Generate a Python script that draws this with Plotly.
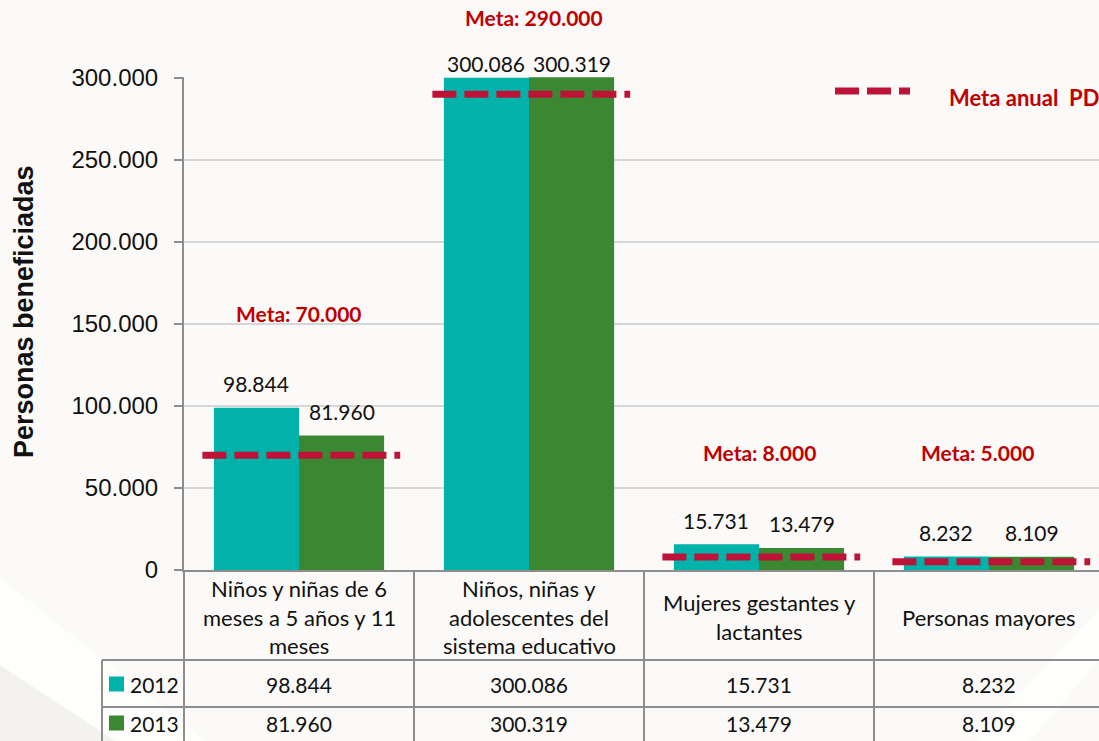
import plotly.graph_objects as go

# ---- data -------------------------------------------------------------
CATEGORIES = [
    "Niños y niñas de 6<br>meses a 5 años y 11<br>meses",
    "Niños, niñas y<br>adolescentes del<br>sistema educativo",
    "Mujeres gestantes y<br>lactantes",
    "Personas mayores",
]
YEARS = ["2012", "2013"]
VALUES_2012 = [98844, 300086, 15731, 8232]
VALUES_2013 = [81960, 300319, 13479, 8109]
METAS = [70000, 290000, 8000, 5000]
Y_TICKS = [0, 50000, 100000, 150000, 200000, 250000, 300000]
AXIS_TITLE = "Personas beneficiadas"
LEGEND_META = "Meta anual\u00a0 PD"

# ---- styling ------------------------------------------------------------
TEAL = "#00B2AA"
GREEN = "#3A8932"
TARGET = "#BE1237"
META_TXT = "#C00000"
GRID = "#D6D6D6"
RULE = "#8E8E8E"
BG = "#FBFAF8"
TXT = "#111111"
FONT = "Lato, 'Open Sans', sans-serif"
TICK_FONT = "'Liberation Sans', Arial, sans-serif"

W, H = 1099, 741
ML, MR, MT, MB = 184, 0, 77, 171
PW = W - ML - MR
PH = H - MT - MB
CAT_PX = 230          # width of one category column in pixels
BARGAP = 0.26


def px_x(px):
    return (px - ML) / PW


def px_y(py):
    return (H - MB - py) / PH


def fmt(v):
    return f"{v:,}".replace(",", ".")


def note(**kw):
    base = dict(showarrow=False, xanchor="center", yanchor="middle")
    base.update(kw)
    return base


fig = go.Figure()
idx = list(range(len(CATEGORIES)))

fig.add_bar(x=idx, y=VALUES_2012, name=YEARS[0], marker_color=TEAL,
            marker_line_width=0, hoverinfo="skip")
fig.add_bar(x=idx, y=VALUES_2013, name=YEARS[1], marker_color=GREEN,
            marker_line_width=0, hoverinfo="skip")

# target (meta) lines over each category
for i, m in enumerate(METAS):
    fig.add_scatter(x=[i - 0.42, i + 0.44], y=[m, m], mode="lines",
                    line=dict(color=TARGET, width=7, dash="24px,8px"),
                    hoverinfo="skip", showlegend=False)

annotations = []
half = (1 - BARGAP) / 4
y_top = 300500

# value labels above the bars
for series, off in ((VALUES_2012, -half), (VALUES_2013, half)):
    for i, v in enumerate(series):
        lift = 14 if v > 0.95 * y_top else 24
        annotations.append(note(x=i + off, y=v, xref="x", yref="y", text=fmt(v),
                                yshift=lift,
                                font=dict(family=FONT, size=21, color=TXT)))

# meta captions
meta_pos = [(0.0, 313), (1.02, 17), (2.0, 452), (2.948, 452)]
for m, (xc, yp) in zip(METAS, meta_pos):
    annotations.append(note(x=xc, y=px_y(yp), xref="x", yref="paper",
                            text="<b>Meta: " + fmt(m) + "</b>",
                            font=dict(family=FONT, size=21, color=META_TXT)))

# legend entry for the target line
annotations.append(note(x=px_x(947), y=px_y(97), xref="paper", yref="paper",
                        xanchor="left", text="<b>" + LEGEND_META + "</b>",
                        font=dict(family=FONT, size=22, color=META_TXT)))

# y axis title
annotations.append(note(x=px_x(24), y=px_y(312), xref="paper", yref="paper",
                        text="<b>" + AXIS_TITLE + "</b>", textangle=-90,
                        font=dict(family="'Liberation Sans', Arial, sans-serif",
                                  size=27, color=TXT)))

# data table: category header row
for i, cat in enumerate(CATEGORIES):
    lines = cat.split("<br>")
    n = len(lines)
    for k, line in enumerate(lines):
        yp = 617 + (k - (n - 1) / 2) * 28.5
        annotations.append(note(x=i, y=px_y(yp), xref="x", yref="paper",
                                text=line,
                                font=dict(family=FONT, size=22, color=TXT)))

# data table: value rows with legend keys
row_y = [684, 723]
shapes = []
for series, year, color, yp in ((VALUES_2012, YEARS[0], TEAL, row_y[0]),
                                (VALUES_2013, YEARS[1], GREEN, row_y[1])):
    for i, v in enumerate(series):
        annotations.append(note(x=i, y=px_y(yp), xref="x", yref="paper",
                                text=fmt(v),
                                font=dict(family=FONT, size=21, color=TXT)))
    shapes.append(dict(type="rect", xref="paper", yref="paper",
                       x0=px_x(109), x1=px_x(124), y0=px_y(yp + 7.5), y1=px_y(yp - 7.5),
                       fillcolor=color, line_width=0))
    annotations.append(note(x=px_x(128), y=px_y(yp), xref="paper", yref="paper",
                            xanchor="left", text=year,
                            font=dict(family=FONT, size=21, color=TXT)))

# table grid
for yp in (660, 707):
    shapes.append(dict(type="line", xref="paper", yref="paper",
                       x0=px_x(102), x1=1.01, y0=px_y(yp), y1=px_y(yp),
                       line=dict(color=RULE, width=2)))
shapes.append(dict(type="line", xref="paper", yref="paper",
                   x0=px_x(102), x1=px_x(102), y0=px_y(660), y1=px_y(748),
                   line=dict(color=RULE, width=2)))
shapes.append(dict(type="line", xref="paper", yref="paper",
                   x0=0, x1=0, y0=0, y1=px_y(748),
                   line=dict(color=RULE, width=2)))
for b in (0.5, 1.5, 2.5):
    shapes.append(dict(type="line", xref="x", yref="paper",
                       x0=b, x1=b, y0=0, y1=px_y(748),
                       line=dict(color=RULE, width=2)))

# legend sample for the target line
shapes.append(dict(type="line", xref="paper", yref="paper",
                   x0=px_x(835), x1=px_x(910), y0=px_y(91), y1=px_y(91),
                   line=dict(color=TARGET, width=7, dash="24px,8px")))


# faint slide background bands
def poly(points):
    d = "M " + " L ".join(f"{px_x(a):.4f},{px_y(b):.4f}" for a, b in points) + " Z"
    return d


shapes.append(dict(type="path", xref="paper", yref="paper", layer="below",
                   path=poly([(0, 578), (205, 741), (115, 741), (0, 665)]),
                   fillcolor="#FEFEFD", line_width=0))
shapes.append(dict(type="path", xref="paper", yref="paper", layer="below",
                   path=poly([(0, 665), (115, 741), (0, 741)]),
                   fillcolor="#F4F2F0", line_width=0))
shapes.append(dict(type="path", xref="paper", yref="paper", layer="below",
                   path=poly([(1099, 610), (1099, 660), (1030, 741), (975, 741)]),
                   fillcolor="#FEFEFD", line_width=0))

fig.update_layout(
    width=W, height=H,
    margin=dict(l=ML, r=MR, t=MT, b=MB, pad=0),
    paper_bgcolor=BG, plot_bgcolor="rgba(0,0,0,0)",
    barmode="group", bargap=BARGAP, bargroupgap=0,
    showlegend=False, hovermode=False,
    separators=",.",
    xaxis=dict(range=[-0.5, -0.5 + PW / CAT_PX], showticklabels=False,
               showgrid=False, zeroline=False, ticks="",
               showline=True, linecolor=RULE, linewidth=2, fixedrange=True),
    yaxis=dict(range=[0, y_top], tickvals=Y_TICKS, tickformat=",.0f",
               showgrid=True, gridcolor=GRID, gridwidth=2, zeroline=False,
               showline=True, linecolor=RULE, linewidth=2,
               ticks="outside", ticklen=8, tickwidth=2, tickcolor=RULE,
               ticklabelstandoff=11,
               tickfont=dict(family=TICK_FONT, size=24, color=TXT),
               fixedrange=True),
    annotations=annotations,
    shapes=shapes,
)

fig.write_html("out.html", config={"displayModeBar": False})
